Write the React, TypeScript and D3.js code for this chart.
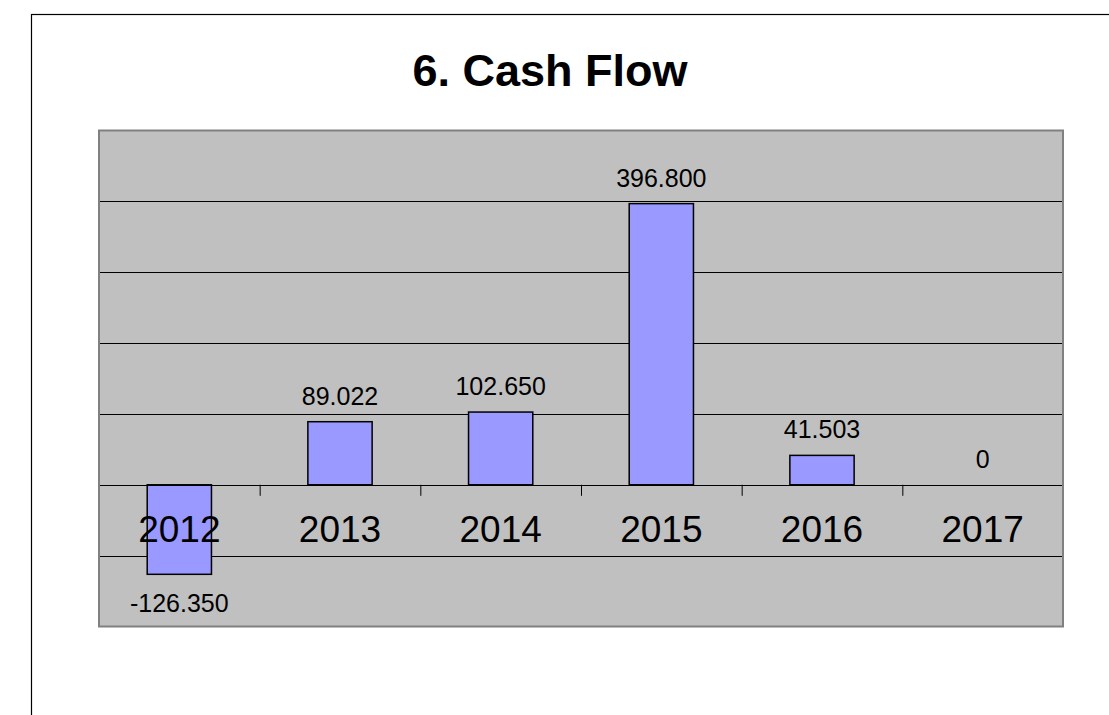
import React from "react";
import * as d3 from "d3";

const categories = ["2012", "2013", "2014", "2015", "2016", "2017"];
const values = [-126.35, 89.022, 102.65, 396.8, 41.503, 0];
const valueLabels = ["-126.350", "89.022", "102.650", "396.800", "41.503", "0"];
const gridValues = [-200, -100, 0, 100, 200, 300, 400, 500];

export default function App() {
  const W = 1109, H = 715;
  const left = 99, right = 1063, top = 130.5, bottom = 626.5;
  const x = d3.scaleBand<string>().domain(categories).range([left, right]).paddingInner(0).paddingOuter(0);
  const y = d3.scaleLinear().domain([-200, 500]).range([bottom, top]);
  const bw = x.bandwidth() * 0.4;
  const y0 = y(0);
  const font = "'Liberation Sans', Arial, sans-serif";
  return (
    <svg width={W} height={H} style={{ position: "absolute", left: 0, top: 0, background: "#fff" }} fontFamily={font}>
      <rect x={31.5} y={14.5} width={1200} height={800} fill="#fff" stroke="#000" strokeWidth={1.2} />
      <text x={550} y={86} textAnchor="middle" fontSize={45} fontWeight="bold" fill="#000">6. Cash Flow</text>
      <rect x={left} y={top} width={right - left} height={bottom - top} fill="#c0c0c0" />
      {gridValues.filter(v => v !== 0 && v !== 500 && v !== -200).map(v => (
        <line key={v} x1={left} x2={right} y1={Math.round(y(v)) + 0.5} y2={Math.round(y(v)) + 0.5} stroke="#000" strokeWidth={1} />
      ))}
      {categories.map((c, i) => {
        const v = values[i];
        const cx = x(c)! + x.bandwidth() / 2;
        const yt = y(Math.max(v, 0));
        const yb = y(Math.min(v, 0));
        return v !== 0 ? (
          <rect key={c} x={cx - bw / 2} y={yt} width={bw} height={yb - yt} fill="#9999ff" stroke="#000" strokeWidth={1.5} />
        ) : null;
      })}
      <line x1={left} x2={right} y1={Math.round(y0) + 0.5} y2={Math.round(y0) + 0.5} stroke="#000" strokeWidth={1} />
      {categories.map((c, i) => (
        <line key={"t" + c} x1={x(c)! + 0.5} x2={x(c)! + 0.5} y1={y0} y2={y0 + 11} stroke="#000" strokeWidth={1} />
      ))}
      <line x1={right - 0.5} x2={right - 0.5} y1={y0} y2={y0 + 11} stroke="#000" strokeWidth={1} />
      <rect x={left} y={top} width={right - left} height={bottom - top} fill="none" stroke="#808080" strokeWidth={2} />
      {categories.map((c) => (
        <text key={"c" + c} x={x(c)! + x.bandwidth() / 2} y={542} textAnchor="middle" fontSize={37} fill="#000">{c}</text>
      ))}
      {categories.map((c, i) => {
        const v = values[i];
        const cx = x(c)! + x.bandwidth() / 2;
        const ly = v >= 0 ? y(v) - 17 : y(v) + 38;
        return (
          <text key={"v" + c} x={cx} y={ly} textAnchor="middle" fontSize={25} fill="#000">{valueLabels[i]}</text>
        );
      })}
    </svg>
  );
}
